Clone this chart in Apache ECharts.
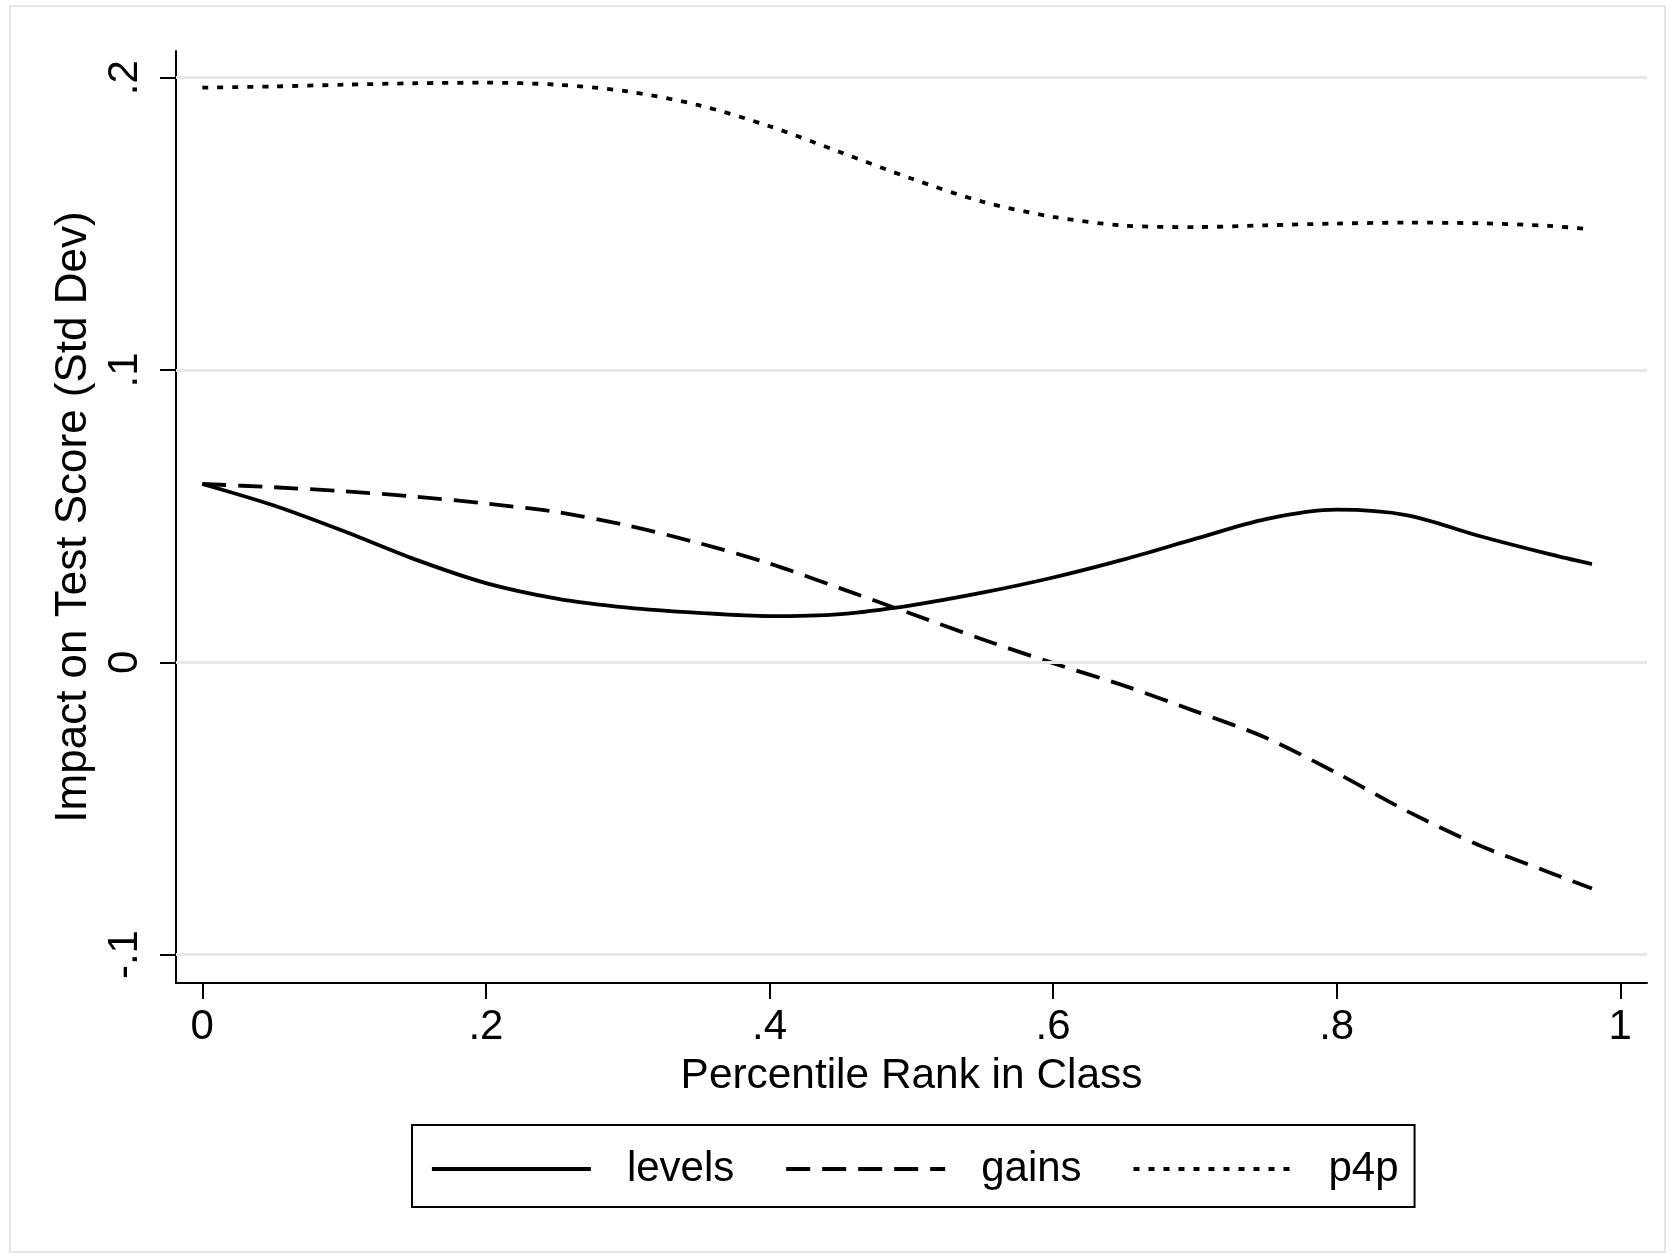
<!DOCTYPE html>
<html>
<head>
<meta charset="utf-8">
<script src="https://cdn.jsdelivr.net/npm/echarts@6/dist/echarts.min.js"></script>
<style>
html, body { margin: 0; padding: 0; background: #fff; }
#chart { width: 1674px; height: 1259px; }
</style>
</head>
<body>
<div id="chart"></div>
<script>
// ---- data ----
const xValues = [0, 0.05, 0.10, 0.15, 0.20, 0.25, 0.30, 0.35, 0.40, 0.45, 0.50,
                 0.55, 0.60, 0.65, 0.70, 0.75, 0.80, 0.85, 0.90, 0.95, 0.98];
const levels = [0.0610, 0.0537, 0.0448, 0.0352, 0.0271, 0.0218, 0.0187, 0.0169, 0.0158, 0.0165, 0.0195,
                0.0238, 0.0290, 0.0352, 0.0422, 0.0490, 0.0522, 0.0503, 0.0433, 0.0370, 0.0336];
const gains  = [0.0610, 0.0599, 0.0585, 0.0567, 0.0543, 0.0514, 0.0468, 0.0408, 0.0338, 0.0253, 0.0166,
                0.0079, -0.0003, -0.0080, -0.0167, -0.0258, -0.0379, -0.0510, -0.0625, -0.0719, -0.0774];
const p4p    = [0.1966, 0.1970, 0.1976, 0.1981, 0.1983, 0.1976, 0.1953, 0.1906, 0.1834, 0.1745, 0.1655,
                0.1576, 0.1524, 0.1494, 0.1489, 0.1495, 0.1501, 0.1504, 0.1502, 0.1493, 0.1481];
const seriesNames = ['levels', 'gains', 'p4p'];
const xTicks = [0, 0.2, 0.4, 0.6, 0.8, 1];
const xTickLabels = ['0', '.2', '.4', '.6', '.8', '1'];
const yTicks = [-0.1, 0, 0.1, 0.2];
const yTickLabels = ['-.1', '0', '.1', '.2'];
const xTitle = 'Percentile Rank in Class';
const yTitle = 'Impact on Test Score (Std Dev)';

// ---- chart ----
const FONT = '"Liberation Sans", Arial, Helvetica, sans-serif';
function lookup(ticks, labels, v) {
  let best = 0;
  for (let i = 0; i < ticks.length; i++) {
    if (Math.abs(ticks[i] - v) < Math.abs(ticks[best] - v)) best = i;
  }
  return labels[best];
}
const pairs = arr => xValues.map((x, i) => [x, arr[i]]);

const chart = echarts.init(document.getElementById('chart'), null, { renderer: 'canvas' });
const lineW = 3.8;
chart.setOption({
  animation: false,
  backgroundColor: '#ffffff',
  textStyle: { fontFamily: FONT, color: '#000' },
  graphic: [{
    type: 'rect', silent: true, z: -10,
    shape: { x: 10, y: 6, width: 1655, height: 1246 },
    style: { fill: 'none', stroke: '#e6e6e6', lineWidth: 2 }
  }],
  grid: { left: 176, right: 27, top: 51, bottom: 276, containLabel: false },
  xAxis: {
    type: 'value',
    min: -0.01855, max: 1.01883,
    name: xTitle, nameLocation: 'middle', nameGap: 72,
    nameTextStyle: { fontSize: 42.4, color: '#000', fontFamily: FONT },
    axisLine: { show: true, onZero: false, lineStyle: { color: '#000', width: 2 } },
    axisTick: { show: true, length: 16, lineStyle: { color: '#000', width: 2 }, customValues: xTicks },
    axisLabel: { show: true, fontSize: 42, color: '#000', fontFamily: FONT, margin: 23,
                 customValues: xTicks, formatter: v => lookup(xTicks, xTickLabels, v) },
    splitLine: { show: false }
  },
  yAxis: {
    type: 'value',
    min: -0.10972, max: 0.20913,
    name: yTitle, nameLocation: 'middle', nameGap: 73, nameRotate: 90,
    nameTextStyle: { fontSize: 44, color: '#000', fontFamily: FONT },
    axisLine: { show: true, onZero: false, lineStyle: { color: '#000', width: 2 } },
    axisTick: { show: true, length: 16, lineStyle: { color: '#000', width: 2 }, customValues: yTicks },
    axisLabel: { show: true, fontSize: 42, color: '#000', fontFamily: FONT, margin: 30, rotate: 90,
                 customValues: yTicks, formatter: v => lookup(yTicks, yTickLabels, v) },
    splitLine: { show: false }
  },
  legend: {
    data: seriesNames,
    orient: 'horizontal',
    left: 412, top: 1125,
    padding: [23, 16, 17, 18],
    itemGap: 50,
    itemWidth: 159, itemHeight: 14,
    borderColor: '#000', borderWidth: 2, borderRadius: 0,
    backgroundColor: '#fff',
    itemStyle: { color: 'rgba(0,0,0,0)', borderColor: 'rgba(0,0,0,0)', borderWidth: 0 },
    lineStyle: { width: 3.8 },
    textStyle: { fontSize: 42, color: '#000', fontFamily: FONT, padding: [0, 0, 0, 31] },
    selectedMode: false
  },
  series: [
    {
      type: 'line', name: '__grid', data: [], z: 1, silent: true,
      markLine: {
        silent: true, symbol: 'none', animation: false,
        label: { show: false },
        lineStyle: { color: '#e8e8e8', width: 3, type: 'solid' },
        emphasis: { disabled: true },
        data: yTicks.map(v => ({ yAxis: v }))
      }
    },
    {
      type: 'line', name: seriesNames[0], data: pairs(levels), z: 3,
      smooth: 0.3, symbol: 'none',
      lineStyle: { color: '#000', width: lineW, type: 'solid' },
      itemStyle: { color: '#000' }
    },
    {
      type: 'line', name: seriesNames[1], data: pairs(gains), z: 3,
      smooth: 0.3, symbol: 'none',
      lineStyle: { color: '#000', width: lineW, type: [24, 12] },
      itemStyle: { color: '#000' }
    },
    {
      type: 'line', name: seriesNames[2], data: pairs(p4p), z: 3,
      smooth: 0.3, symbol: 'none',
      lineStyle: { color: '#000', width: lineW, type: [6, 9] },
      itemStyle: { color: '#000' }
    }
  ]
});
</script>
</body>
</html>
